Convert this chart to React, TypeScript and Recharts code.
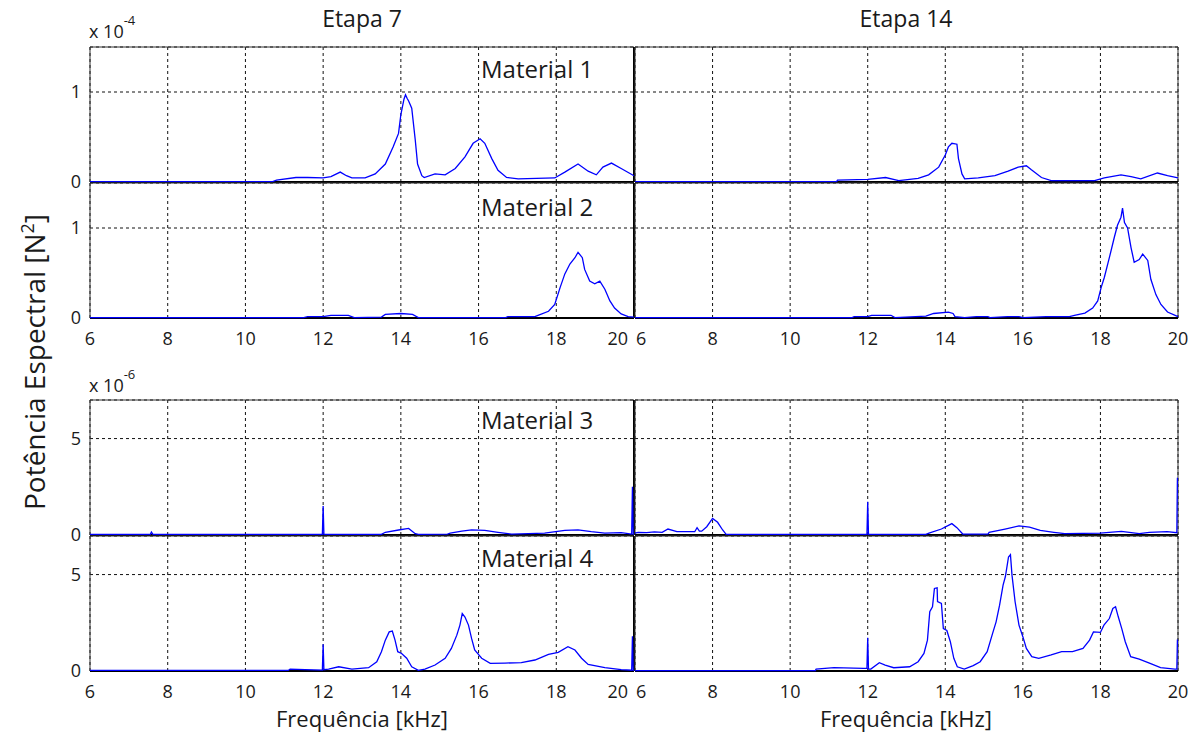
import React from 'react';
import { LineChart, Line, XAxis, YAxis, CartesianGrid, ReferenceArea, ReferenceLine } from 'recharts';

// ---- axes ----
const freqTicks = [6, 8, 10, 12, 14, 16, 18, 20];
const ticksE4 = [0, 1];
const ticksE6 = [0, 5];
const domainE4: [number, number] = [0, 1.5];
const domainE6: [number, number] = [0, 7];
const stageTitles = ['Etapa 7', 'Etapa 14'];
const materialLabels = ['Material 1', 'Material 2', 'Material 3', 'Material 4'];

// ---- series: [frequency kHz, power] (x1e-4 N² for materials 1–2, x1e-6 N² for 3–4) ----
const m1e7: [number, number][] = [
  [6, 0.005], [10.7, 0.005], [10.8, 0.02], [11.3, 0.05], [11.6, 0.05], [12.0, 0.045], [12.2, 0.06],
  [12.44, 0.11], [12.6, 0.07], [12.74, 0.045], [13.08, 0.045], [13.34, 0.09], [13.6, 0.2], [13.8, 0.39],
  [13.94, 0.54], [14.0, 0.75], [14.08, 0.92], [14.12, 0.97], [14.16, 0.93], [14.2, 0.9], [14.28, 0.82],
  [14.37, 0.47], [14.43, 0.2], [14.54, 0.07], [14.6, 0.05], [14.88, 0.09], [15.14, 0.08], [15.4, 0.15],
  [15.65, 0.28], [15.86, 0.43], [16.04, 0.48], [16.16, 0.43], [16.34, 0.26], [16.5, 0.13], [16.72, 0.05],
  [17.02, 0.035], [17.96, 0.045], [18.22, 0.11], [18.56, 0.2], [18.82, 0.12], [19.03, 0.08], [19.2, 0.165],
  [19.42, 0.21], [19.67, 0.15], [20, 0.07],
];
const m1e14: [number, number][] = [
  [6, 0.005], [11.2, 0.005], [11.22, 0.02], [12, 0.03], [12.46, 0.05], [12.8, 0.015], [13.3, 0.04],
  [13.57, 0.08], [13.83, 0.165], [14.0, 0.3], [14.08, 0.39], [14.17, 0.43], [14.3, 0.42], [14.34, 0.26],
  [14.43, 0.09], [14.5, 0.035], [14.85, 0.045], [15.28, 0.07], [15.62, 0.12], [15.88, 0.165], [16.09, 0.18],
  [16.22, 0.135], [16.48, 0.05], [16.73, 0.015], [17.85, 0.015], [18.1, 0.045], [18.53, 0.08], [18.79, 0.06],
  [19.04, 0.035], [19.47, 0.1], [19.73, 0.07], [20, 0.045],
];
const m2e7: [number, number][] = [
  [6, 0.005], [11.5, 0.005], [11.6, 0.015], [12, 0.015], [12.2, 0.03], [12.65, 0.03], [12.8, 0.005],
  [13.5, 0.01], [13.6, 0.04], [14.0, 0.05], [14.3, 0.04], [14.45, 0.005], [16.7, 0.005], [16.75, 0.015],
  [17.45, 0.015], [17.53, 0.03], [17.8, 0.075], [17.96, 0.15], [18.1, 0.34], [18.22, 0.49], [18.35, 0.6],
  [18.48, 0.67], [18.56, 0.73], [18.67, 0.67], [18.73, 0.54], [18.86, 0.41], [18.99, 0.38], [19.12, 0.41],
  [19.25, 0.32], [19.38, 0.19], [19.5, 0.11], [19.67, 0.045], [19.85, 0.015], [20, 0.01],
];
const m2e14: [number, number][] = [
  [6, 0.005], [11.6, 0.005], [11.65, 0.015], [12, 0.015], [12.1, 0.03], [12.6, 0.03], [12.7, 0.005],
  [13.5, 0.02], [13.7, 0.05], [14.08, 0.065], [14.2, 0.05], [14.25, 0.015], [14.5, 0.005], [14.8, 0.015],
  [15.1, 0.015], [15.15, 0.005], [15.6, 0.015], [15.9, 0.015], [16.0, 0.005], [16.6, 0.015], [17.2, 0.015],
  [17.33, 0.03], [17.6, 0.055], [17.8, 0.11], [17.93, 0.19], [18.02, 0.34], [18.1, 0.45], [18.23, 0.67],
  [18.36, 0.9], [18.44, 1.03], [18.53, 1.12], [18.57, 1.22], [18.62, 1.06], [18.7, 1.0], [18.79, 0.78],
  [18.87, 0.62], [19.0, 0.65], [19.09, 0.71], [19.22, 0.64], [19.3, 0.43], [19.43, 0.26], [19.56, 0.15],
  [19.73, 0.067], [20, 0.015],
];
const m3e7: [number, number][] = [
  [6, 0.03], [7.55, 0.03], [7.58, 0.15], [7.62, 0.03], [11.98, 0.03], [12, 1.5], [12.02, 0.03], [13.5, 0.03],
  [13.6, 0.14], [13.94, 0.26], [14.2, 0.34], [14.37, 0.07], [14.45, 0.03], [15.2, 0.05], [15.27, 0.1],
  [15.57, 0.2], [15.82, 0.27], [16.16, 0.24], [16.5, 0.14], [16.85, 0.05], [17.7, 0.1], [18.22, 0.24],
  [18.56, 0.27], [18.9, 0.17], [19.25, 0.1], [19.67, 0.12], [19.94, 0.05], [19.96, 2.5], [19.98, 0.05],
  [20, 0.05],
];
const m3e14: [number, number][] = [
  [6, 0.1], [6.08, 0.14], [6.3, 0.12], [6.5, 0.16], [6.7, 0.14], [6.85, 0.31], [7.08, 0.17], [7.54, 0.17],
  [7.6, 0.38], [7.66, 0.2], [7.72, 0.2], [7.85, 0.43], [8.0, 0.86], [8.13, 0.66], [8.26, 0.26], [8.35, 0.03],
  [11.98, 0.03], [12, 1.72], [12.02, 0.03], [13.5, 0.03], [13.58, 0.1], [13.9, 0.31], [14.17, 0.59],
  [14.3, 0.38], [14.45, 0.05], [15.1, 0.05], [15.13, 0.14], [15.54, 0.31], [15.9, 0.47], [16.17, 0.41],
  [16.45, 0.24], [16.8, 0.14], [17.08, 0.07], [17.99, 0.1], [18.54, 0.19], [19.0, 0.07], [19.26, 0.14],
  [19.72, 0.17], [19.97, 0.12], [19.985, 2.93], [20, 2.93],
];
const m4e7: [number, number][] = [
  [6, 0.03], [11.1, 0.03], [11.15, 0.1], [11.54, 0.07], [11.98, 0.05], [12, 1.38], [12.02, 0.07], [12.14, 0.1],
  [12.4, 0.22], [12.74, 0.1], [13.17, 0.17], [13.38, 0.48], [13.5, 1.0], [13.6, 1.6], [13.7, 2.03], [13.78, 2.07],
  [13.85, 1.6], [13.92, 1.0], [14.02, 0.91], [14.15, 0.66], [14.28, 0.22], [14.45, 0.03], [14.62, 0.1],
  [14.88, 0.31], [15.14, 0.66], [15.3, 1.17], [15.44, 1.86], [15.52, 2.38], [15.58, 2.98], [15.65, 2.8],
  [15.74, 2.38], [15.82, 1.69], [15.9, 1.09], [16.08, 0.66], [16.3, 0.4], [16.68, 0.41], [17.1, 0.43],
  [17.45, 0.57], [17.8, 0.86], [18.05, 0.97], [18.3, 1.26], [18.48, 1.09], [18.65, 0.66], [18.82, 0.34],
  [19.25, 0.17], [19.67, 0.07], [19.94, 0.04], [19.96, 1.8], [19.98, 0.04], [20, 0.04],
];
const m4e14: [number, number][] = [
  [6, 0.02], [10.65, 0.02], [10.67, 0.1], [11.13, 0.17], [11.9, 0.14], [11.98, 0.14], [12, 1.72], [12.02, 0.1],
  [12.08, 0.1], [12.3, 0.43], [12.45, 0.31], [12.67, 0.17], [13.08, 0.22], [13.3, 0.48], [13.45, 0.91],
  [13.54, 1.6], [13.6, 3.07], [13.67, 3.33], [13.72, 4.28], [13.79, 4.31], [13.8, 3.6], [13.9, 3.5],
  [13.95, 2.2], [14.04, 2.1], [14.13, 1.52], [14.22, 0.66], [14.31, 0.22], [14.49, 0.1], [14.72, 0.28],
  [14.9, 0.48], [15.08, 1.0], [15.22, 1.95], [15.31, 2.55], [15.4, 3.41], [15.49, 4.45], [15.55, 4.9],
  [15.63, 5.91], [15.68, 6.03], [15.72, 4.97], [15.8, 3.59], [15.9, 2.38], [16.0, 1.78], [16.09, 1.17],
  [16.23, 0.74], [16.41, 0.66], [16.73, 0.83], [17.0, 1.0], [17.28, 1.0], [17.55, 1.17], [17.72, 1.6],
  [17.82, 2.03], [18.0, 2.0], [18.09, 2.38], [18.23, 2.72], [18.32, 3.24], [18.39, 3.33], [18.46, 2.81],
  [18.55, 2.2], [18.64, 1.52], [18.78, 0.74], [19.0, 0.62], [19.28, 0.4], [19.55, 0.17], [19.92, 0.1],
  [19.97, 0.1], [19.985, 1.6], [20, 1.6],
];

const toRows = (pts: [number, number][]) => pts.map(([f, v]) => ({ f, v }));

const FONT = '"Open Sans", "DejaVu Sans", sans-serif';
const TXT = '#1a1a1a';

const XTick = (p: any) => {
  const v = p.payload.value;
  let anchor: 'middle' | 'end' | 'start' = 'middle';
  let dx = 0;
  if (p.side === 'left' && v === 20) { anchor = 'end'; dx = -6; }
  if (p.side === 'right' && v === 6) { anchor = 'start'; dx = 1; }
  return (
    <text x={p.x + dx} y={p.y} dy="0.71em" textAnchor={anchor} fontFamily={FONT} fontSize={18} fill={TXT}>
      {v}
    </text>
  );
};

const YTick = (p: any) => (
  <text x={p.x} y={p.y} dy="0.36em" textAnchor="end" fontFamily={FONT} fontSize={18} fill={TXT}>
    {p.payload.value}
  </text>
);

const NoTick = () => <g />;

type PanelProps = {
  pts: [number, number][];
  left: number; top: number; width: number; height: number;
  yDomain: [number, number]; yTicks: number[];
  side: 'left' | 'right'; showX: boolean;
};

function Panel({ pts, left, top, width, height, yDomain, yTicks, side, showX }: PanelProps) {
  const YW = 40, TM = 10, RM = 30, XH = 40;
  return (
    <div style={{ position: 'absolute', left: left - YW, top: top - TM }}>
      <LineChart width={width + YW + RM} height={height + TM + XH} data={toRows(pts)}
        margin={{ top: TM, right: RM, left: 0, bottom: 0 }}>
        <CartesianGrid stroke="#111" strokeDasharray="3 3" strokeWidth={1} />
        <XAxis dataKey="f" type="number" domain={[6, 20]} ticks={freqTicks} interval={0} height={XH}
          axisLine={false} tickLine={false} tickSize={6} tickMargin={8}
          tick={showX ? (p: any) => <XTick {...p} side={side} /> : NoTick} />
        <YAxis type="number" domain={yDomain} ticks={yTicks} interval={0} width={YW}
          axisLine={false} tickLine={false} tickSize={6} tickMargin={3}
          tick={side === 'left' ? (p: any) => <YTick {...p} /> : NoTick} />
        <ReferenceArea x1={6} x2={20} y1={yDomain[0]} y2={yDomain[1]} fill="none" fillOpacity={0}
          stroke="#333" strokeWidth={1} />
        <ReferenceLine y={0} stroke="#000" strokeWidth={2} />
        {side === 'left' && <ReferenceLine x={20} stroke="#000" strokeWidth={2} />}
        <Line dataKey="v" type="linear" stroke="#0000ff" strokeWidth={1.3} dot={false} isAnimationActive={false} />
      </LineChart>
    </div>
  );
}

const cols = [
  { left: 90, width: 544, side: 'left' as const, center: 362 },
  { left: 635, width: 543, side: 'right' as const, center: 906 },
];
const rows = [
  { top: 47, height: 135, domain: domainE4, ticks: ticksE4, showX: false, series: [m1e7, m1e14], labelY: 78 },
  { top: 183, height: 135, domain: domainE4, ticks: ticksE4, showX: true, series: [m2e7, m2e14], labelY: 216 },
  { top: 400, height: 135, domain: domainE6, ticks: ticksE6, showX: false, series: [m3e7, m3e14], labelY: 429 },
  { top: 536, height: 135, domain: domainE6, ticks: ticksE6, showX: true, series: [m4e7, m4e14], labelY: 567 },
];

export default function App() {
  return (
    <div style={{ position: 'absolute', left: 0, top: 0, width: 1200, height: 733, background: '#fff', overflow: 'hidden' }}>
      {rows.map((r, ri) =>
        cols.map((c, ci) => (
          <Panel key={`${ri}-${ci}`} pts={r.series[ci]} left={c.left} top={r.top} width={c.width}
            height={r.height} yDomain={r.domain} yTicks={r.ticks} side={c.side} showX={r.showX} />
        ))
      )}
      <svg width={1200} height={733} style={{ position: 'absolute', left: 0, top: 0, pointerEvents: 'none' }}>
        {cols.map((c, ci) => (
          <text key={`t${ci}`} x={c.center} y={27} textAnchor="middle" fontFamily={FONT} fontSize={23} fill={TXT}>
            {stageTitles[ci]}
          </text>
        ))}
        {cols.map((c, ci) => (
          <text key={`f${ci}`} x={c.center} y={727} textAnchor="middle" fontFamily={FONT} fontSize={22} fill={TXT}>
            Frequência [kHz]
          </text>
        ))}
        {rows.map((r, ri) => (
          <text key={`m${ri}`} x={481} y={r.labelY} fontFamily={FONT} fontSize={24} fill={TXT}>
            {materialLabels[ri]}
          </text>
        ))}
        <text x={89} y={38} fontFamily={FONT} fontSize={18} fill={TXT}>
          x 10<tspan dy={-13} fontSize={13}>-4</tspan>
        </text>
        <text x={89} y={392} fontFamily={FONT} fontSize={18} fill={TXT}>
          x 10<tspan dy={-13} fontSize={13}>-6</tspan>
        </text>
        <text transform="translate(45, 362) rotate(-90)" textAnchor="middle" fontFamily={FONT} fontSize={28} fill={TXT}>
          Potência Espectral [N<tspan dy={-11} fontSize={18}>2</tspan><tspan dy={11}>]</tspan>
        </text>
      </svg>
    </div>
  );
}
